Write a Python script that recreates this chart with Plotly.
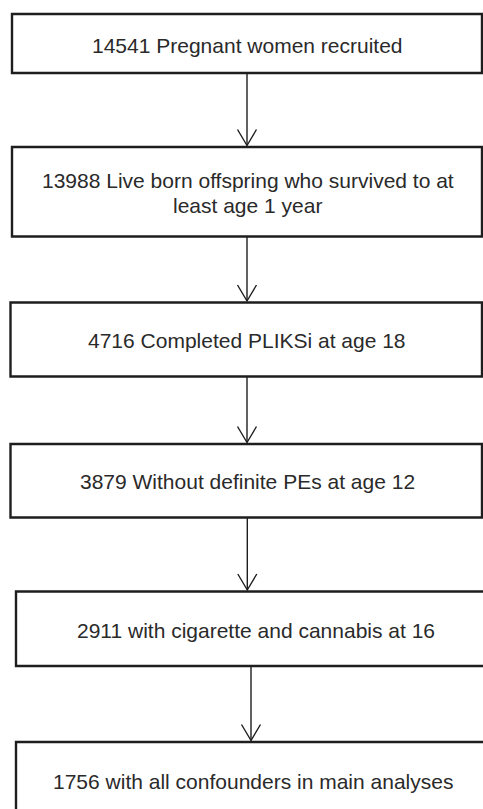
import plotly.graph_objects as go

# ---- data ----
counts = [14541, 13988, 4716, 3879, 2911, 1756]
descriptions = [
    ["Pregnant women recruited"],
    ["Live born offspring who survived to at", "least age 1 year"],
    ["Completed PLIKSi at age 18"],
    ["Without definite PEs at age 12"],
    ["with cigarette and cannabis at 16"],
    ["with all confounders in main analyses"],
]

# ---- layout geometry (page pixels in a 483x809 window) ----
box_x0 = [12, 12, 10.5, 10.5, 16, 16]
box_x1 = [482, 482, 482, 482, 492, 492]
box_y0 = [14, 147, 302.5, 444, 591.5, 742]
box_y1 = [73, 236.5, 376.5, 517.5, 666, 830]
text_x = [247.5, 247.5, 247, 247, 255.5, 253]
text_y = [45, 192.5, 340, 481, 630, 781]
arrow_x = [247, 247, 247, 247.3, 251]
line_gap = 25

W, H = 483, 809
LINE = "#1e1e1e"
TEXT = "#2a2a2a"

fig = go.Figure()
shapes = []
annotations = []

for i in range(len(counts)):
    shapes.append(dict(type="rect", xref="x", yref="y",
                       x0=box_x0[i], x1=box_x1[i], y0=box_y0[i], y1=box_y1[i],
                       line=dict(color=LINE, width=2.4), fillcolor="rgba(0,0,0,0)"))
    lines = list(descriptions[i])
    lines[0] = f"{counts[i]} {lines[0]}"
    n = len(lines)
    for k, ln in enumerate(lines):
        y = text_y[i] + (k - (n - 1) / 2) * line_gap
        annotations.append(dict(x=text_x[i], y=y, xref="x", yref="y", text=ln,
                                showarrow=False, xanchor="center", yanchor="middle",
                                font=dict(family="Liberation Sans, Arial", size=21, color=TEXT)))

for i, ax in enumerate(arrow_x):
    y_start = box_y1[i]
    y_tip = box_y0[i + 1] - 1.5
    shapes.append(dict(type="line", xref="x", yref="y", x0=ax, x1=ax, y0=y_start, y1=y_tip,
                       line=dict(color=LINE, width=1.4)))
    shapes.append(dict(type="path", xref="x", yref="y",
                       path=f"M {ax-9.5},{y_tip-16} L {ax},{y_tip} L {ax+9.5},{y_tip-16}",
                       line=dict(color=LINE, width=1.4)))

# invisible trace to anchor axes
fig.add_trace(go.Scatter(x=[0, W], y=[0, H], mode="markers", marker=dict(opacity=0),
                         hoverinfo="skip", showlegend=False))

fig.update_layout(
    width=W, height=H, margin=dict(l=0, r=0, t=0, b=0),
    paper_bgcolor="white", plot_bgcolor="white",
    xaxis=dict(range=[0, W], visible=False, fixedrange=True),
    yaxis=dict(range=[H, 0], visible=False, fixedrange=True),
    shapes=shapes, annotations=annotations, showlegend=False,
)

fig.write_html("out.html", config={"displayModeBar": False},
               post_script="document.body.style.margin='0';document.body.style.overflow='hidden';")
